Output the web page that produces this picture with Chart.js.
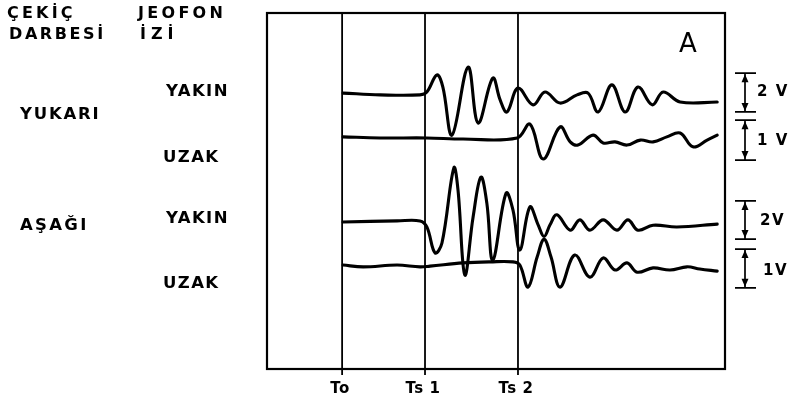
<!DOCTYPE html>
<html>
<head>
<meta charset="utf-8">
<script src="https://cdn.jsdelivr.net/npm/chart.js@4/dist/chart.umd.min.js"></script>
<style>
html,body{margin:0;padding:0;background:#fff;}
#c{display:block;}
</style>
</head>
<body>
<canvas id="c" width="791" height="404"></canvas>
<script>
// ---- time markers (arbitrary time units, box spans 0..100) ----
const markerTimes = [16.4, 34.5, 54.8];
const markerLabels = ['To', 'Ts 1', 'Ts 2'];

// ---- traces: time and trace level (arbitrary units, box spans 0..100) ----
const yukariYakinT = [16.6,24.7,33.4,34.9,37.1,38.4,40.4,43.9,46.1,49.3,50.9,52.4,54.8,58.1,60.7,64.0,67.7,70.1,72.3,75.3,78.2,81.0,84.1,86.5,90.2,98.3];
const yukariYakinV = [77.5,77.0,77.0,77.8,82.6,79.2,65.7,84.8,69.1,81.7,75.6,72.2,78.9,74.2,77.8,74.7,77.0,77.5,72.2,79.8,72.2,79.2,74.2,77.8,75.0,75.0];

const yukariUzakT = [16.6,24.7,34.9,42.8,54.6,57.4,60.3,64.0,66.2,67.9,71.2,73.4,76.0,78.6,81.5,84.3,87.3,90.2,93.0,96.1,98.3];
const yukariUzakV = [65.2,64.9,64.9,64.6,64.9,68.8,59.0,68.0,63.8,62.9,65.7,63.5,63.8,62.9,64.3,63.8,65.2,66.3,62.4,64.3,65.7];

const asagiYakinT = [16.6,28.4,33.4,34.9,36.7,38.2,40.8,41.7,43.2,45.0,46.7,48.0,49.3,52.2,53.7,55.2,57.4,59.2,60.5,61.8,63.3,66.2,68.3,70.5,73.4,76.4,78.8,81.0,84.3,89.5,98.3];
const asagiYakinV = [41.3,41.6,41.6,39.9,32.6,35.4,56.5,50.3,26.4,42.7,53.9,46.6,30.6,49.4,44.7,33.4,45.5,40.5,37.2,40.5,43.3,39.0,41.9,39.0,41.9,39.0,41.9,39.0,40.4,39.9,40.7];

const asagiUzakT = [16.6,21.0,28.4,33.4,35.6,42.8,48.7,53.7,55.2,57.0,59.0,60.5,62.0,64.0,67.2,70.5,73.4,76.0,78.6,80.8,84.3,88.0,91.7,94.5,98.3];
const asagiUzakV = [29.2,28.7,29.2,28.7,28.9,29.8,30.1,30.1,29.2,23.0,31.5,36.4,31.5,23.0,32.0,25.8,31.2,27.8,29.8,27.2,28.4,27.8,28.7,28.1,27.5];

// ---- row labels ----
const headerLabels = ['ÇEKİÇ', 'JEOFON', 'DARBESİ', 'İZİ'];
const groupLabels = ['YUKARI', 'AŞAĞI'];
const traceLabels = ['YAKIN', 'UZAK', 'YAKIN', 'UZAK'];
const scaleBarLabels = ['2 V', '1 V', '2V', '1V'];
const panelLetter = 'A';

function pts(t, v) { return t.map((x, i) => ({x: x, y: v[i]})); }

const traceStyle = {borderColor: '#000', borderWidth: 3.1, pointRadius: 0, tension: 0.38, fill: false, borderCapStyle: 'round', borderJoinStyle: 'round'};

const F = '"DejaVu Sans", sans-serif';

function txt(ctx, s, x, y, size, spacing, align, weight) {
  ctx.save();
  ctx.font = (weight || 'bold') + ' ' + size + 'px ' + F;
  ctx.letterSpacing = (spacing || 0) + 'px';
  ctx.textAlign = align || 'left';
  ctx.textBaseline = 'middle';
  ctx.fillStyle = '#000';
  ctx.fillText(s, x, y);
  ctx.restore();
}

const decor = {
  id: 'decor',
  beforeDatasetsDraw(chart) {
    const ctx = chart.ctx, a = chart.chartArea, xs = chart.scales.x;
    ctx.save();
    ctx.strokeStyle = '#000';
    ctx.lineWidth = 1.8;
    markerTimes.forEach((t) => {
      const px = xs.getPixelForValue(t);
      ctx.beginPath();
      ctx.moveTo(px, a.top);
      ctx.lineTo(px, a.bottom + 6);
      ctx.stroke();
    });
    ctx.restore();
  },
  afterDatasetsDraw(chart) {
    const ctx = chart.ctx, a = chart.chartArea, xs = chart.scales.x, ys = chart.scales.y;
    ctx.save();
    ctx.strokeStyle = '#000';
    ctx.lineWidth = 2.2;
    ctx.strokeRect(a.left, a.top, a.right - a.left, a.bottom - a.top);
    ctx.restore();

    markerTimes.forEach((t, i) => {
      txt(ctx, markerLabels[i], xs.getPixelForValue(t) - 2, 389, 15, 0.5, 'center');
    });

    txt(ctx, headerLabels[0], 7, 14, 16, 3.2);
    txt(ctx, headerLabels[1], 138, 14, 16, 3.3);
    txt(ctx, headerLabels[2], 9, 35, 16, 2.6);
    txt(ctx, headerLabels[3], 140, 35, 16, 5);

    txt(ctx, groupLabels[0], 20, 115, 16.5, 1.8);
    txt(ctx, groupLabels[1], 20, 226, 16.5, 2.3);

    const tl = [[166, 92], [163, 158], [166, 219], [163, 284]];
    traceLabels.forEach((s, i) => txt(ctx, s, tl[i][0], tl[i][1], 16.5, 1.4));

    txt(ctx, panelLetter, 688, 45, 26, 0, 'center', 'normal');

    const bars = [[83.1, 72.2], [69.9, 58.7], [47.2, 36.5], [33.7, 22.8]];
    const lx = [[757, 92], [757, 141], [760, 221], [763, 271]];
    const cx = 745;
    ctx.save();
    ctx.strokeStyle = '#000';
    ctx.fillStyle = '#000';
    bars.forEach((b, i) => {
      const y1 = ys.getPixelForValue(b[0]), y2 = ys.getPixelForValue(b[1]);
      ctx.lineWidth = 1.7;
      ctx.beginPath();
      ctx.moveTo(cx - 10, y1); ctx.lineTo(cx + 11, y1);
      ctx.moveTo(cx - 10, y2); ctx.lineTo(cx + 11, y2);
      ctx.moveTo(cx, y1); ctx.lineTo(cx, y2);
      ctx.stroke();
      ctx.beginPath();
      ctx.moveTo(cx, y1 + 1); ctx.lineTo(cx - 3.5, y1 + 9); ctx.lineTo(cx + 3.5, y1 + 9); ctx.closePath();
      ctx.moveTo(cx, y2 - 1); ctx.lineTo(cx - 3.5, y2 - 9); ctx.lineTo(cx + 3.5, y2 - 9); ctx.closePath();
      ctx.fill();
      txt(ctx, scaleBarLabels[i], lx[i][0], lx[i][1], 15, 1.5);
    });
    ctx.restore();
  }
};

new Chart(document.getElementById('c'), {
  type: 'line',
  data: {
    datasets: [
      Object.assign({label: 'YUKARI YAKIN', data: pts(yukariYakinT, yukariYakinV)}, traceStyle),
      Object.assign({label: 'YUKARI UZAK', data: pts(yukariUzakT, yukariUzakV)}, traceStyle),
      Object.assign({label: 'AŞAĞI YAKIN', data: pts(asagiYakinT, asagiYakinV)}, traceStyle),
      Object.assign({label: 'AŞAĞI UZAK', data: pts(asagiUzakT, asagiUzakV)}, traceStyle)
    ]
  },
  options: {
    responsive: false,
    devicePixelRatio: 1,
    animation: false,
    layout: {padding: {left: 267, right: 66, top: 13, bottom: 35}},
    scales: {
      x: {type: 'linear', min: 0, max: 100, display: false},
      y: {type: 'linear', min: 0, max: 100, display: false}
    },
    plugins: {legend: {display: false}, tooltip: {enabled: false}}
  },
  plugins: [decor]
});
</script>
</body>
</html>
